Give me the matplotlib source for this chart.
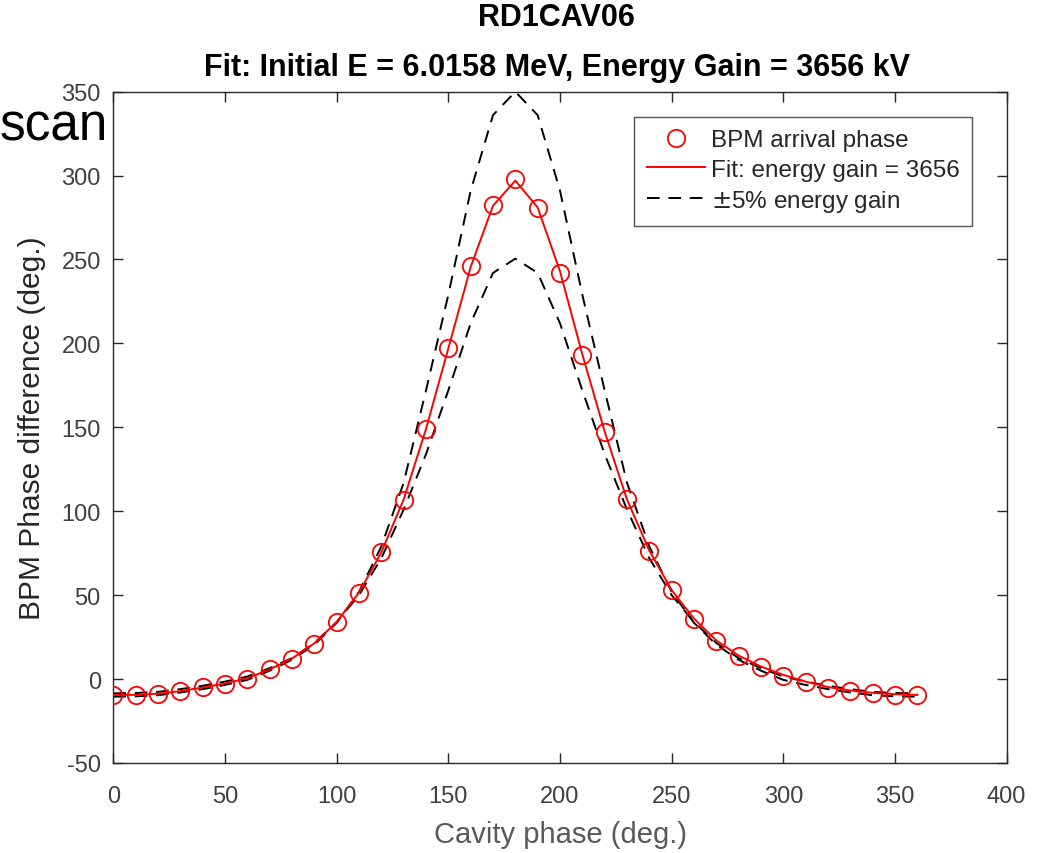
import matplotlib
matplotlib.use("Agg")
import matplotlib.pyplot as plt

# ---- data ----
cavity_phase = [0, 10, 20, 30, 40, 50, 60, 70, 80, 90, 100, 110, 120, 130, 140, 150, 160, 170, 180,
                190, 200, 210, 220, 230, 240, 250, 260, 270, 280, 290, 300, 310, 320, 330, 340, 350, 360]
bpm_phase = [-9.5, -9.5, -8.8, -7, -5, -3, 0, 6, 12, 21, 34, 51.5, 75.5, 106.5, 149, 197, 246, 282.5, 298,
             280.5, 242, 193, 147, 107, 76.5, 53, 36, 22.5, 13.5, 7, 2, -2, -5.5, -7, -8.3, -9.3, -9.5]
fit_phase = [-9.5, -9.4, -8.7, -7.2, -5, -2.6, 0.5, 5.8, 12.2, 21.3, 34, 51.5, 75.5, 107, 149, 197, 245.5, 282, 297,
             281, 243, 193.5, 147.5, 107, 76.5, 53, 36, 23, 14, 7.5, 2.5, -1.5, -4.8, -6.8, -8.2, -9, -9.5]
upper_phase = [-10.5, -10.3, -9.6, -8, -6, -3.5, -0.5, 5, 11.5, 20.5, 33.5, 52, 79, 117, 172, 229, 291, 336, 350,
               336, 291, 229, 172, 117, 79, 52, 33.5, 20.5, 11.5, 5, -0.5, -3.5, -6, -8, -9.6, -10.3, -10.5]
lower_phase = [-8.5, -8.3, -7.6, -6, -4, -1.5, 1.5, 6.5, 12.5, 21.5, 34, 50, 72, 101, 134, 172, 212, 242, 250.5,
               242, 212, 172, 134, 101, 72, 50, 34, 21.5, 12.5, 6.5, 1.5, -1.5, -4, -6, -7.6, -8.3, -8.5]

xticks = [0, 50, 100, 150, 200, 250, 300, 350, 400]
yticks = [-50, 0, 50, 100, 150, 200, 250, 300, 350]

plt.rcParams['font.family'] = ['Liberation Sans', 'DejaVu Sans']
plt.rcParams['axes.unicode_minus'] = False

fig = plt.figure(figsize=(10.38, 8.54), dpi=100)
ax = fig.add_axes([0.1092, 0.1054, 0.8606, 0.7861])

ax.plot(cavity_phase, bpm_phase, linestyle='none', marker='o', markersize=12.5,
        markerfacecolor='none', markeredgecolor='#ff0000', markeredgewidth=1.3,
        label='BPM arrival phase', zorder=4)
ax.plot(cavity_phase, fit_phase, color='#ff0000', linewidth=1.4,
        label='Fit: energy gain = 3656', zorder=3)
ax.plot(cavity_phase, upper_phase, color='black', linewidth=1.4, linestyle=(0, (6.5, 4.5)),
        label='$\\pm$5% energy gain', zorder=2)
ax.plot(cavity_phase, lower_phase, color='black', linewidth=1.4, linestyle=(0, (6.5, 4.5)), zorder=2)

ax.set_xlim(0, 400)
ax.set_ylim(-50, 350)
ax.set_xticks(xticks)
ax.set_yticks(yticks)
ax.tick_params(direction='in', top=True, right=True, length=7, width=1,
               labelsize=17, labelcolor='#404040', color='#262626')
ax.tick_params(axis='x', pad=16)
ax.tick_params(axis='y', pad=9)
for s in ax.spines.values():
    s.set_color('#262626')
    s.set_linewidth(1)

ax.set_xlabel('Cavity phase (deg.)', fontsize=21, color='#595959', va='center')
ax.xaxis.set_label_coords(0.5, -0.106)
ax.set_ylabel('BPM Phase difference (deg.)', fontsize=21.5, color='#262626', va='center')
ax.yaxis.set_label_coords(-0.091, 0.5)

fig.text(0.5365, 0.979, 'RD1CAV06', ha='center', va='center', fontsize=22, fontweight='bold', color='black')
fig.text(0.5365, 0.920, 'Fit: Initial E = 6.0158 MeV, Energy Gain = 3656 kV', ha='center', va='center',
         fontsize=22, fontweight='bold', color='black')
fig.text(0.0, 0.835, 'scan', ha='left', va='baseline', fontsize=37, color='black')

leg = ax.legend(loc='upper right', bbox_to_anchor=(0.961, 0.962), borderaxespad=0, fontsize=17.5,
                frameon=True, fancybox=False, edgecolor='#262626', handlelength=2.4, borderpad=0.5,
                labelspacing=0.3, handletextpad=0.25, labelcolor='#262626')
leg.get_frame().set_linewidth(1)

fig.savefig('out.png', dpi=100)
